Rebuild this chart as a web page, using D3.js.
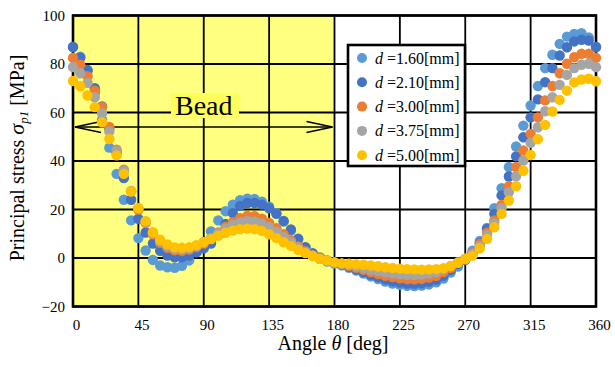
<!DOCTYPE html>
<html>
<head>
<meta charset="utf-8">
<script src="https://cdn.jsdelivr.net/npm/d3@7"></script>
<style>
  body { margin: 0; background: #fff; }
  text { font-family: "Liberation Serif", "Times New Roman", serif; fill: #000; }
</style>
</head>
<body>
<svg id="chart" width="615" height="367"></svg>
<script>
// angle of each measuring point [deg]
const angles = d3.range(0, 361, 5);

// principal stress [MPa] per bead width d
const d160 = [87, 83, 77, 68, 57, 45.5, 34.7, 24, 15.5,
    8.2, 3.1, -0.8, -3.1, -3.8, -4, -3.2, -1, 2.5,
    6.5, 11, 15.5, 19.3, 22, 23.8, 24.5, 24.3, 23.2,
    21.2, 18.5, 15, 11.3, 7.6, 4.3, 1.6, -0.3, -1.5,
    -2.3, -3, -4, -5.2, -6.4, -7.6, -8.7, -9.7, -10.5,
    -11.1, -11.5, -11.6, -11.4, -10.9, -10, -8.5, -6, -3.5,
    -0.5, 3, 7, 12.4, 20.5, 28.8, 37.5, 46, 54.6,
    62.9, 70.9, 78.3, 83.8, 88.3, 91.3, 92.4, 92.7, 91,
    87];
const d210 = [87, 82.6, 77.5, 70, 62.5, 53.5, 43.5, 33, 24,
    16.2, 10.5, 6, 3, 1, 0.3, 0.3, 1, 2.3,
    4, 6, 9.5, 14, 18.5, 21.5, 22.7, 22.7, 22,
    20.5, 18.2, 15.3, 11.8, 8, 4.5, 2, 0.2, -1,
    -1.9, -2.7, -3.6, -4.7, -5.8, -6.9, -7.9, -8.8, -9.6,
    -10.1, -10.5, -10.6, -10.4, -9.8, -9, -7.3, -5, -2.5,
    -0.8, 2, 6.1, 12, 18.2, 25.8, 33.6, 41.9, 49.8,
    58, 65.4, 72.5, 78.3, 83.5, 86.9, 89.3, 90, 89.7,
    87];
const d300 = [82.5, 79.7, 75, 69, 62.2, 54, 44.7, 36.4, 27.5,
    20, 14.5, 9.8, 6.3, 4.2, 3.2, 3, 3.5, 4.5,
    6, 8, 10.5, 12.8, 14.8, 16.4, 17.3, 17.2, 16.2,
    14.5, 12.3, 9.8, 7.2, 4.8, 2.8, 1.1, -0.2, -1.2,
    -1.9, -2.5, -3.2, -4, -4.9, -5.8, -6.6, -7.3, -7.9,
    -8.4, -8.7, -8.8, -8.6, -8.1, -7.3, -5.8, -4, -2,
    -0.5, 2, 5.8, 10.4, 15.5, 21.9, 29.6, 37.5, 44.3,
    51.2, 58, 65, 70.9, 76.2, 80.1, 82.8, 84.2, 84.2,
    82.5];
const d375 = [78.7, 76.2, 72.2, 66.3, 59.7, 52.2, 44.2, 36, 27.6,
    20.5, 15, 10.2, 6.8, 4.8, 3.8, 3.6, 4, 5,
    6.5, 8.2, 10.2, 12.1, 13.7, 14.8, 15.3, 15.1, 14.2,
    12.7, 10.8, 8.6, 6.4, 4.3, 2.5, 1, -0.2, -1.1,
    -1.8, -2.3, -2.9, -3.5, -4.1, -4.8, -5.4, -5.9, -6.3,
    -6.7, -6.9, -7, -6.8, -6.4, -5.8, -4.7, -3.3, -1.7,
    -0.3, 1.8, 5, 9.5, 14.5, 20.5, 27.1, 33.7, 40.2,
    47.5, 53.9, 60.5, 66.3, 71.4, 75.5, 78.3, 79.7, 80.1,
    78.7];
const d500 = [73, 70.8, 67, 62.2, 56, 49.1, 42.3, 34.7, 27.4,
    20.5, 15.2, 10.6, 7.5, 5.6, 4.4, 4.2, 4.5, 5.3,
    6.5, 7.8, 9.2, 10.4, 11.3, 11.9, 12.1, 11.9, 11.2,
    9.8, 8.2, 6.5, 5, 3.4, 2, 0.8, -0.3, -1.1,
    -1.8, -2.2, -2.4, -2.6, -2.8, -3.1, -3.4, -3.8, -4.1,
    -4.4, -4.6, -4.7, -4.8, -4.7, -4.6, -4.2, -3.3, -2,
    -0.3, 1, 4, 7.9, 12.7, 18.2, 23.7, 29.6, 36,
    42.5, 49, 54.9, 60.4, 65.2, 69, 72.4, 73.6, 73.9,
    72.9];

const widths = ["1.60", "2.10", "3.00", "3.75", "5.00"];
const colors = ["#5B9BD5", "#4472C4", "#ED7D31", "#A5A5A5", "#FFC000"];
const values = [d160, d210, d300, d375, d500];

const xTicks = [0, 45, 90, 135, 180, 225, 270, 315, 360];
const yTicks = [-20, 0, 20, 40, 60, 80, 100];
const beadEnd = 180;

const svg = d3.select("#chart");
const x = d3.scaleLinear().domain([0, 360]).range([73, 596]);
const y = d3.scaleLinear().domain([-20, 100]).range([306.5, 15.5]);

svg.append("rect").attr("width", 615).attr("height", 367).attr("fill", "#fff");

// bead zone
svg.append("rect")
    .attr("x", x(0)).attr("y", y(100))
    .attr("width", x(beadEnd) - x(0)).attr("height", y(-20) - y(100))
    .attr("fill", "#FFFF80");

// grid lines
const grid = svg.append("g").attr("stroke", "#000").attr("stroke-width", 1.8);
grid.selectAll(".gx").data(xTicks).enter().append("line")
    .attr("x1", d => x(d)).attr("x2", d => x(d))
    .attr("y1", y(100)).attr("y2", y(-20));
grid.selectAll(".gy").data(yTicks).enter().append("line")
    .attr("x1", x(0)).attr("x2", x(360))
    .attr("y1", d => y(d)).attr("y2", d => y(d));

// frame
svg.append("rect")
    .attr("x", x(0)).attr("y", y(100))
    .attr("width", x(360) - x(0)).attr("height", y(-20) - y(100))
    .attr("fill", "none").attr("stroke", "#000").attr("stroke-width", 2.6);

// axes (labels only)
const xAxis = svg.append("g")
    .attr("transform", `translate(3,${y(-20)})`)
    .call(d3.axisBottom(x).tickValues(xTicks).tickSize(0).tickPadding(13));
const yAxis = svg.append("g")
    .attr("transform", `translate(${x(0)},0)`)
    .call(d3.axisLeft(y).tickValues(yTicks).tickSize(0).tickPadding(8));
[xAxis, yAxis].forEach(a => {
    a.select(".domain").remove();
    a.selectAll("text").attr("font-size", 15)
        .style("font-family", '"Liberation Serif", "Times New Roman", serif');
});

// bead arrow
const ay = y(54);
const arrow = svg.append("g").attr("stroke", "#000").attr("stroke-width", 1.4).attr("fill", "none");
arrow.append("line").attr("x1", x(0) + 2).attr("x2", x(beadEnd) - 2).attr("y1", ay).attr("y2", ay);
arrow.append("path").attr("d", `M${x(0) + 28},${ay - 5.5}L${x(0) + 2},${ay}L${x(0) + 28},${ay + 5.5}`);
arrow.append("path").attr("d", `M${x(beadEnd) - 28},${ay - 5.5}L${x(beadEnd) - 2},${ay}L${x(beadEnd) - 28},${ay + 5.5}`);

// bead label
svg.append("rect").attr("x", 171).attr("y", 93).attr("width", 68).attr("height", 25).attr("fill", "#FFFF5A");
svg.append("text").attr("x", x(90)).attr("y", 115).attr("text-anchor", "middle")
    .attr("font-size", 28).text("Bead");

// points
values.forEach((vals, i) => {
    svg.append("g").attr("fill", colors[i])
        .selectAll("circle").data(vals).enter().append("circle")
        .attr("cx", (d, j) => x(angles[j]))
        .attr("cy", d => y(d))
        .attr("r", 5.2);
});

// legend
const lg = svg.append("g");
lg.append("rect").attr("x", 348).attr("y", 45).attr("width", 117).attr("height", 121)
    .attr("fill", "#fff").attr("stroke", "#000").attr("stroke-width", 2.6);
widths.forEach((w, i) => {
    const cy = 58 + i * 24.3;
    lg.append("circle").attr("cx", 362).attr("cy", cy).attr("r", 5).attr("fill", colors[i]);
    const t = lg.append("text").attr("x", 375).attr("y", cy + 5.5).attr("font-size", 16);
    t.append("tspan").attr("font-style", "italic").text("d");
    t.append("tspan").text(" =" + w + "[mm]");
});

// axis titles
const xt = svg.append("text").attr("x", 333).attr("y", 350).attr("text-anchor", "middle").attr("font-size", 20);
xt.append("tspan").text("Angle ");
xt.append("tspan").attr("font-style", "italic").text("θ");
xt.append("tspan").text(" [deg]");

const yt = svg.append("text").attr("transform", "translate(24,158) rotate(-90)")
    .attr("text-anchor", "middle").attr("font-size", 20);
yt.append("tspan").text("Principal stress ");
yt.append("tspan").attr("font-style", "italic").attr("font-size", 22).text("σ");
yt.append("tspan").attr("font-style", "italic").attr("font-size", 13).attr("dy", 4).text("p1");
yt.append("tspan").attr("dy", -4).text(" [MPa]");
</script>
</body>
</html>
